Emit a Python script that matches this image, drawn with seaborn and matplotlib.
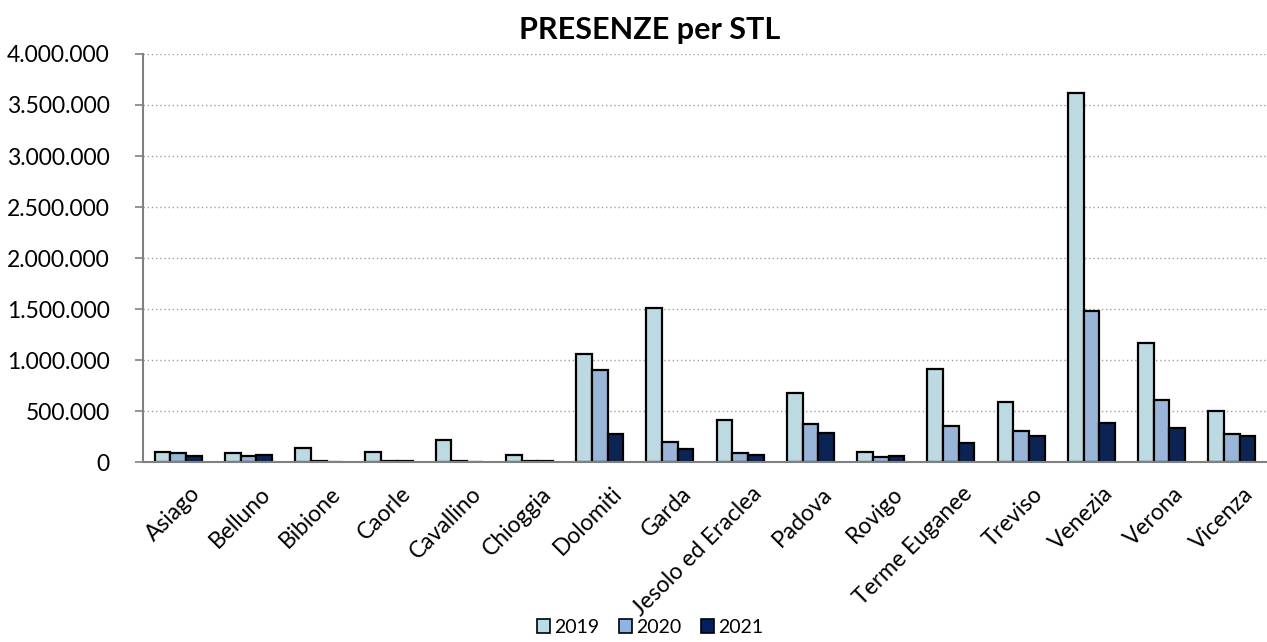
"""
Presenze turistiche per STL (2019-2021) - grafico a barre raggruppate
"""
import pandas as pd
import matplotlib.pyplot as plt
import matplotlib.transforms as mtransforms
import seaborn as sns
from matplotlib.ticker import FuncFormatter, FixedLocator
from matplotlib.patches import Patch

# dati
stl = ['Asiago', 'Belluno', 'Bibione', 'Caorle', 'Cavallino', 'Chioggia',
       'Dolomiti', 'Garda', 'Jesolo ed Eraclea', 'Padova', 'Rovigo',
       'Terme Euganee', 'Treviso', 'Venezia', 'Verona', 'Vicenza']
anni = ['2019', '2020', '2021']
pres_2019 = [98000, 90000, 137000, 105000, 215000, 70000, 1065000, 1515000,
             415000, 680000, 105000, 910000, 595000, 3620000, 1165000, 505000]
pres_2020 = [90000, 60000, 8000, 15000, 10000, 8000, 905000, 195000,
             95000, 375000, 55000, 355000, 310000, 1480000, 605000, 280000]
pres_2021 = [60000, 75000, 3000, 15000, 3000, 8000, 275000, 125000,
             75000, 290000, 65000, 185000, 260000, 385000, 335000, 255000]
colori = ['#B7DEE8', '#8EB4E3', '#002060']

df = pd.DataFrame({'STL': stl, '2019': pres_2019, '2020': pres_2020, '2021': pres_2021})
df = df.melt(id_vars='STL', var_name='Anno', value_name='Presenze')

sns.set_style('white')
plt.rcParams['font.family'] = ['Lato', 'DejaVu Sans']
plt.rcParams['text.color'] = 'black'
plt.rcParams['xtick.labelcolor'] = 'black'
plt.rcParams['ytick.labelcolor'] = 'black'

fig = plt.figure(figsize=(12.67, 6.42), dpi=100)
ax = fig.add_axes([0.113, 0.280, 0.887, 0.636])

sns.barplot(data=df, x='STL', y='Presenze', hue='Anno', hue_order=anni,
            palette=colori, width=0.67, edgecolor='black', linewidth=1.6,
            legend=False, ax=ax)

ax.set_ylim(0, 4000000)
ax.set_xlim(-0.5, len(stl) - 0.5)
ax.set_yticks(range(0, 4000001, 500000))
ax.yaxis.set_major_formatter(FuncFormatter(lambda v, p: f'{int(v):,}'.replace(',', '.')))
ax.grid(axis='y', color='#A0A0A0', linestyle=(0, (1, 2)), linewidth=1)
ax.set_axisbelow(True)

# tick dell'asse x ai bordi delle categorie (stile Excel)
ax.tick_params(axis='x', which='major', length=0, labelsize=16.5, pad=15)
ax.xaxis.set_minor_locator(FixedLocator([i - 0.5 for i in range(len(stl) + 1)]))
ax.tick_params(axis='x', which='minor', length=6, color='#808080', width=1.2)
ax.tick_params(axis='y', length=6, color='#808080', width=1.2, labelsize=16.5,
               left=True, pad=18)
sposta = mtransforms.ScaledTranslation(0.11, 0, fig.dpi_scale_trans)
for lab in ax.get_xticklabels():
    lab.set_rotation(45)
    lab.set_ha('right')
    lab.set_rotation_mode('anchor')
    lab.set_transform(lab.get_transform() + sposta)

for s in ['top', 'right']:
    ax.spines[s].set_visible(False)
for s in ['left', 'bottom']:
    ax.spines[s].set_color('#808080')
    ax.spines[s].set_linewidth(1.5)

ax.set_xlabel('')
ax.set_ylabel('')
fig.text(0.513, 0.953, 'PRESENZE per STL', ha='center', va='center',
         fontsize=22, fontweight='bold')

handles = [Patch(facecolor=c, edgecolor='black', linewidth=1.2, label=a)
           for c, a in zip(colori, anni)]
fig.legend(handles=handles, loc='lower center', bbox_to_anchor=(0.513, -0.018),
           ncol=3, frameon=False, fontsize=14, handlelength=0.7, handleheight=0.7,
           handletextpad=0.2, columnspacing=1.0)

plt.savefig('out.png', dpi=100)
